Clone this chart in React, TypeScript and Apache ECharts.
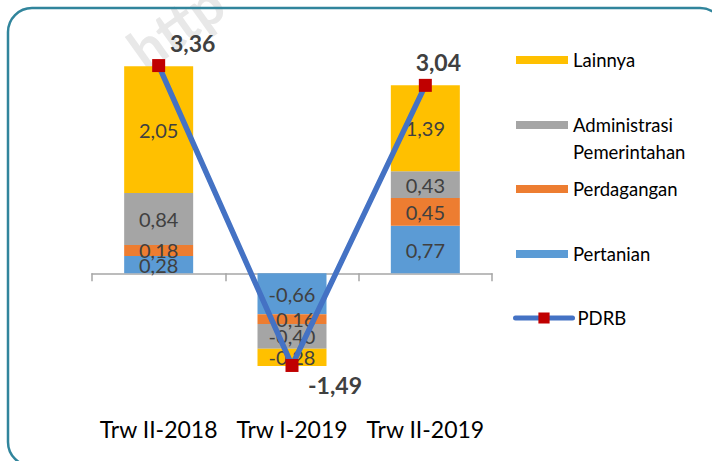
import React, { useEffect, useRef } from 'react';
import * as echarts from 'echarts';

const categories = ['Trw II-2018', 'Trw I-2019', 'Trw II-2019'];
const pertanian = [0.28, -0.66, 0.77];
const perdagangan = [0.18, -0.16, 0.45];
const administrasi = [0.84, -0.4, 0.43];
const lainnya = [2.05, -0.28, 1.39];
const pdrb = [3.36, -1.49, 3.04];
const pdrbLabelOffsets = [[34, 0], [43, -3], [13, 0]];
const pdrbLabelPositions = ['top', 'bottom', 'top'];

const FONT = 'Lato';
const fmt = (v: number) => v.toFixed(2).replace('.', ',');

export default function App() {
  const ref = useRef<HTMLDivElement>(null);
  useEffect(() => {
    document.body.style.margin = '0';
    const chart = echarts.init(ref.current!, null, { renderer: 'svg' });
    const barLabel = {
      show: true,
      position: 'inside',
      color: '#404040',
      fontSize: 20,
      fontFamily: FONT,
      formatter: (p: any) => fmt(p.value),
    };
    const barSeries = (name: string, data: number[], color: string) => ({
      name,
      type: 'bar',
      stack: 'total',
      data,
      barWidth: 69,
      itemStyle: { color },
      label: barLabel,
    });
    const legendBase = (name: string, top: number, extra: any = {}) => ({
      orient: 'vertical',
      left: 516,
      top,
      padding: 0,
      itemWidth: 52,
      itemHeight: 8,
      itemGap: 0,
      selectedMode: false,
      data: [{ name, icon: 'rect' }],
      textStyle: { fontSize: 18.5, fontFamily: FONT, color: '#000', lineHeight: 20 },
      ...extra,
    });
    chart.setOption({
      animation: false,
      textStyle: { fontFamily: FONT },
      grid: { left: 92, width: 400, top: 26, height: 371, outerBoundsMode: 'none', containLabel: false },
      legend: [
        legendBase('Lainnya', 50),
        legendBase('Administrasi Pemerintahan', 84.5, {
          formatter: () => ' \nAdministrasi\nPemerintahan',
          textStyle: { fontSize: 18.5, fontFamily: FONT, color: '#000', lineHeight: 27 },
        }),
        legendBase('Perdagangan', 179),
        legendBase('Pertanian', 244),
        {
          orient: 'vertical',
          left: 513,
          top: 308,
          padding: 0,
          itemWidth: 57,
          itemHeight: 14,
          selectedMode: false,
          data: [{ name: 'PDRB' }],
          lineStyle: { width: 5, cap: 'round' },
          textStyle: { fontSize: 18.5, fontFamily: FONT, color: '#000', lineHeight: 20 },
        },
      ],
      xAxis: {
        type: 'category',
        data: categories,
        axisLine: { onZero: true, lineStyle: { color: '#A6A6A6', width: 1.5 } },
        axisTick: { show: true, length: 8, lineStyle: { color: '#A6A6A6', width: 1.5 } },
        axisLabel: { color: '#000', fontSize: 23, fontFamily: FONT, margin: 20, interval: 0 },
      },
      yAxis: {
        type: 'value',
        min: -2,
        max: 4,
        show: false,
        splitLine: { show: false },
      },
      graphic: [
        {
          type: 'text',
          x: 150,
          y: 78,
          rotation: 0.62,
          z: -10,
          silent: true,
          style: {
            text: 'http',
            fontSize: 56,
            fontWeight: 'bold',
            fontFamily: FONT,
            fill: 'rgba(210,210,210,0.5)',
            textVerticalAlign: 'bottom',
          },
        },
        {
          type: 'rect',
          shape: { x: 8, y: 8, width: 716, height: 458, r: 24 },
          silent: true,
          style: { fill: 'none', stroke: '#31859C', lineWidth: 2.5 },
        },
      ],
      series: [
        barSeries('Pertanian', pertanian, '#5B9BD5'),
        barSeries('Perdagangan', perdagangan, '#ED7D31'),
        barSeries('Administrasi Pemerintahan', administrasi, '#A5A5A5'),
        barSeries('Lainnya', lainnya, '#FFC000'),
        {
          name: 'PDRB',
          type: 'line',
          data: pdrb.map((v, i) => ({
            value: v,
            label: {
              position: pdrbLabelPositions[i],
              offset: pdrbLabelOffsets[i],
            },
          })),
          symbol: 'rect',
          symbolSize: 13,
          itemStyle: { color: '#C00000' },
          lineStyle: { color: '#4472C4', width: 5.5, cap: 'round' },
          z: 5,
          label: {
            show: true,
            fontSize: 23,
            fontWeight: 'bold',
            color: '#404040',
            fontFamily: FONT,
            formatter: (p: any) => fmt(p.value),
          },
        },
      ],
    });
    return () => chart.dispose();
  }, []);
  return <div ref={ref} style={{ width: 712, height: 461 }} />;
}
